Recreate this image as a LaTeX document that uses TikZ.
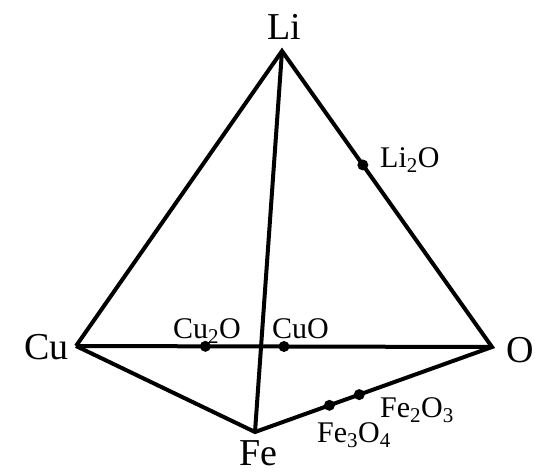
\documentclass[tikz,border=0pt]{standalone}
\usepackage{fontspec}
\setmainfont{Liberation Serif}
\usetikzlibrary{calc}

\tikzset{
  vertex/.style={font=\fontsize{38}{44}\selectfont, inner sep=0pt},
  phase/.style={font=\fontsize{30}{36}\selectfont, inner sep=0pt},
  edge/.style={line width=4pt},
  dot/.style={fill=black},
}

\begin{document}
\begin{tikzpicture}[x=1pt, y=-1pt]
        \useasboundingbox (0,0) rectangle (535,474);

        % --- Corners ---
        \coordinate (Li) at (282,51);
        \coordinate (Cu) at (76,346);
        \coordinate (O)  at (492,347);
        \coordinate (Fe) at (255,432);

        \node[vertex, anchor=base] (LiLabel) at (284,39) {Li};
        \node[vertex, anchor=base east] (CuLabel) at (69,359) {Cu};
        \node[vertex, anchor=base west] (OLabel) at (506,362) {O};
        \node[vertex, anchor=base] (FeLabel) at (258,465) {Fe};

        % --- Edges ---
        \draw[edge] (Cu) -- (Li) -- (O) -- (Fe) -- (Cu);
        \draw[edge] (Cu) -- (O);
        \draw[edge] (Li) -- (Fe);

        % --- Compounds on the edges ---
        % Li-O edge
        \coordinate (Li2O) at ($(Li)!0.385!(O)$);
        \fill[dot] (Li2O) circle (5.5pt);
        \node[phase, anchor=base west] (Li2OLabel) at (380,167) {Li\textsubscript{2}O};

        % Cu-O edge
        \coordinate (Cu2O) at ($(Cu)!0.311!(O)$);
        \fill[dot] (Cu2O) circle (5.5pt);
        \node[phase, anchor=base] (Cu2OLabel) at (207,338) {Cu\textsubscript{2}O};

        \coordinate (CuO) at ($(Cu)!0.5!(O)$);
        \fill[dot] (CuO) circle (5.5pt);
        \node[phase, anchor=base west] (CuOLabel) at (272,338) {CuO};

        % Fe-O edge
        \coordinate (Fe3O4) at ($(Fe)!0.314!(O)$);
        \fill[dot] (Fe3O4) circle (5.5pt);
        \node[phase, anchor=base west] (Fe3O4Label) at (317,442) {Fe\textsubscript{3}O\textsubscript{4}};

        \coordinate (Fe2O3) at ($(Fe)!0.44!(O)$);
        \fill[dot] (Fe2O3) circle (5.5pt);
        \node[phase, anchor=base west] (Fe2O3Label) at (380,417) {Fe\textsubscript{2}O\textsubscript{3}};

\end{tikzpicture}
\end{document}
